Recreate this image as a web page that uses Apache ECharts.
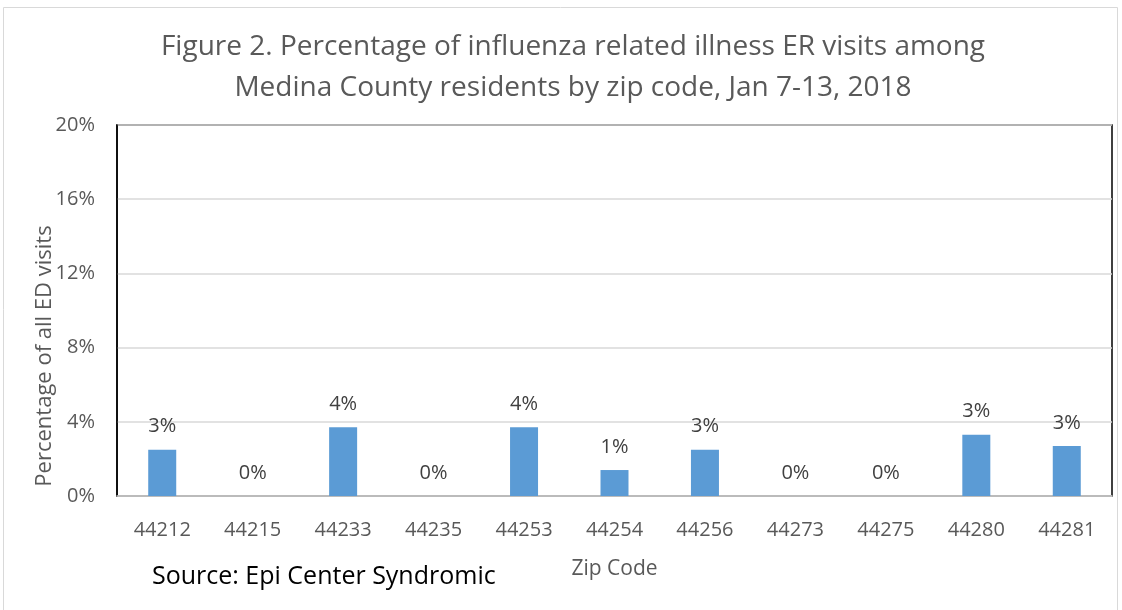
<!DOCTYPE html>
<html>
<head>
<meta charset="utf-8">
<script src="https://cdn.jsdelivr.net/npm/echarts@6/dist/echarts.min.js"></script>
<style>
  html, body { margin: 0; padding: 0; background: #fff; }
  #chart { width: 1122px; height: 610px; }
</style>
</head>
<body>
<div id="chart"></div>
<script>
// zip codes and percentages
var zip_codes = ['44212', '44215', '44233', '44235', '44253', '44254', '44256', '44273', '44275', '44280', '44281'];
var er_pct = [2.5, 0, 3.7, 0, 3.7, 1.4, 2.5, 0, 0, 3.3, 2.7];
var y_ticks = [0, 4, 8, 12, 16, 20];

var font = '"Open Sans", sans-serif';
var chart = echarts.init(document.getElementById('chart'));

chart.setOption({
  animation: false,
  graphic: [{
    type: 'rect',
    shape: { x: 3.5, y: 7.5, width: 1114, height: 610 },
    style: { fill: 'none', stroke: '#d9d9d9', lineWidth: 1 },
    silent: true
  }, {
    // title, centred a bit right of the page middle like the original
    type: 'text',
    x: 573,
    y: 68,
    style: {
      text: 'Figure 2. Percentage of influenza related illness ER visits among\nMedina County residents by zip code, Jan 7-13, 2018',
      font: '28px "Open Sans", sans-serif',
      fill: '#595959',
      align: 'center',
      verticalAlign: 'middle',
      lineHeight: 41
    }
  }, {
    type: 'text',
    left: 152,
    top: 564,
    style: { text: 'Source: Epi Center Syndromic', font: '25px "Open Sans", sans-serif', fill: '#000' }
  }, {
    // y axis title sits lower than the plot's middle in the original
    type: 'text',
    x: 45,
    y: 356,
    rotation: Math.PI / 2,
    style: {
      text: 'Percentage of all ED visits',
      font: '22px "Open Sans", sans-serif',
      fill: '#595959',
      align: 'center',
      verticalAlign: 'middle'
    }
  }],
  grid: {
    left: 117, right: 10, top: 125, bottom: 114,
    show: true, borderColor: '#000', borderWidth: 1.5, backgroundColor: 'transparent'
  },
  xAxis: {
    type: 'category',
    data: zip_codes,
    name: 'Zip Code',
    nameLocation: 'middle',
    nameGap: 63,
    nameTextStyle: { fontFamily: font, fontSize: 21, color: '#595959' },
    axisLine: { lineStyle: { color: '#bfbfbf', width: 1.5 } },
    axisTick: { show: false },
    axisLabel: { fontFamily: font, fontSize: 20, color: '#595959', margin: 24 }
  },
  yAxis: {
    type: 'value',
    min: y_ticks[0],
    max: y_ticks[y_ticks.length - 1],
    interval: y_ticks[1] - y_ticks[0],
    axisLine: { show: true, lineStyle: { color: '#000', width: 1.5 } },
    axisTick: { show: false },
    axisLabel: { fontFamily: font, fontSize: 20, color: '#595959', margin: 22, formatter: '{value}%' },
    splitLine: { lineStyle: { color: '#d9d9d9', width: 1.5 } }
  },
  series: [{
    type: 'bar',
    data: er_pct,
    barWidth: 28,
    itemStyle: { color: '#5b9bd5' },
    label: {
      show: true,
      position: 'top',
      distance: 13,
      fontFamily: font,
      fontSize: 20,
      color: '#404040',
      formatter: function (p) { return Math.round(p.value) + '%'; }
    }
  }]
});
</script>
</body>
</html>
